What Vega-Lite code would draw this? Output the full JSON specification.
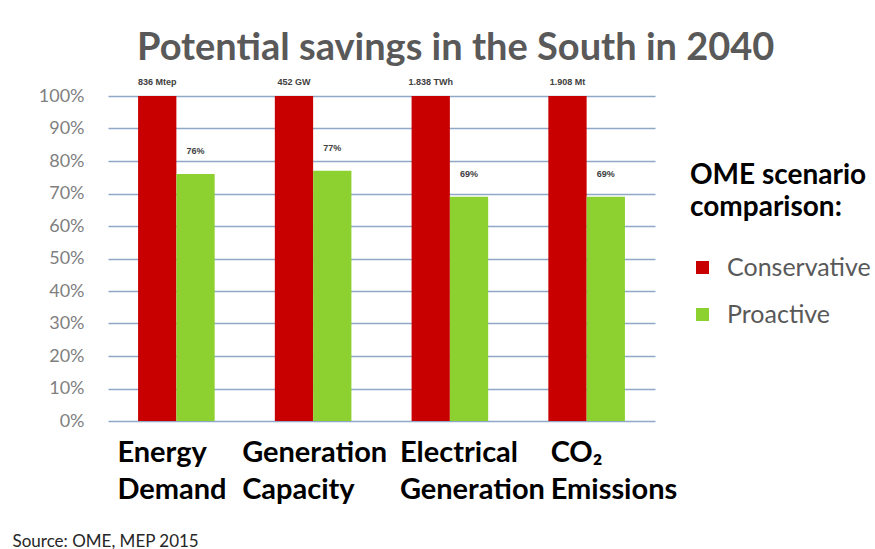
{
  "$schema": "https://vega.github.io/schema/vega-lite/v6.json",
  "autosize": "none",
  "padding": {"left": 108, "top": 96, "right": 220, "bottom": 128},
  "width": 547,
  "height": 325,
  "background": "white",
  "config": {"view": {"stroke": null}, "font": "Lato"},
  "title": {
    "text": "Potential savings in the South in 2040",
    "anchor": "start",
    "frame": "group",
    "dx": 29,
    "fontSize": 38,
    "font": "Lato",
    "fontWeight": "bold",
    "color": "#595959",
    "offset": 10
  },
  "data": {
    "values": [
      {"category": "Energy Demand", "scenario": "Conservative", "value": 1.0, "label": "836 Mtep"},
      {"category": "Energy Demand", "scenario": "Proactive", "value": 0.76, "label": "76%"},
      {"category": "Generation Capacity", "scenario": "Conservative", "value": 1.0, "label": "452 GW"},
      {"category": "Generation Capacity", "scenario": "Proactive", "value": 0.77, "label": "77%"},
      {"category": "Electrical Generation", "scenario": "Conservative", "value": 1.0, "label": "1.838 TWh"},
      {"category": "Electrical Generation", "scenario": "Proactive", "value": 0.69, "label": "69%"},
      {"category": "CO₂ Emissions", "scenario": "Conservative", "value": 1.0, "label": "1.908 Mt"},
      {"category": "CO₂ Emissions", "scenario": "Proactive", "value": 0.69, "label": "69%"}
    ]
  },
  "encoding": {
    "x": {
      "field": "category",
      "type": "nominal",
      "sort": null,
      "scale": {"paddingInner": 0.44, "paddingOuter": 0.22},
      "axis": {
        "title": "Source: OME, MEP 2015",
        "titleFont": "Lato",
        "titleFontSize": 17,
        "titleFontWeight": "normal",
        "titleColor": "#262626",
        "titleAlign": "left",
        "titleAnchor": "start",
        "titleBaseline": "alphabetic",
        "titleX": -96,
        "titleY": 125,
        "labelAngle": 0,
        "labelExpr": "split(datum.label, ' ')",
        "labelAlign": "left",
        "labelBaseline": "top",
        "labelFont": "Lato",
        "labelFontSize": 29,
        "labelFontWeight": "bold",
        "labelColor": "#000000",
        "labelLineHeight": 37,
        "labelPadding": 17,
        "labelOffset": {
          "condition": [
            {"test": "datum.value == 'Energy Demand'", "value": -59},
            {"test": "datum.value == 'Generation Capacity'", "value": -71},
            {"test": "datum.value == 'Electrical Generation'", "value": -50}
          ],
          "value": -36
        },
        "domain": false,
        "ticks": false
      }
    },
    "xOffset": {"field": "scenario", "type": "nominal", "sort": ["Conservative", "Proactive"], "scale": {"paddingInner": 0, "paddingOuter": 0}},
    "y": {
      "field": "value",
      "type": "quantitative",
      "scale": {"domain": [0, 1], "nice": false},
      "axis": {
        "title": null,
        "values": [0, 0.1, 0.2, 0.3, 0.4, 0.5, 0.6, 0.7, 0.8, 0.9, 1.0],
        "format": ".0%",
        "labelFont": "Lato",
        "labelFontSize": 18,
        "labelColor": "#7F7F7F",
        "labelPadding": 24,
        "domain": false,
        "ticks": false,
        "gridColor": "#8FA8C8",
        "gridWidth": 1.5
      }
    }
  },
  "layer": [
    {
      "mark": {"type": "bar"},
      "encoding": {
        "color": {
          "field": "scenario",
          "type": "nominal",
          "scale": {"domain": ["Conservative", "Proactive"], "range": ["#C80000", "#8CD130"]},
          "legend": {
            "orient": "none",
            "legendX": 582,
            "legendY": 66,
            "title": ["OME scenario", "comparison:"],
            "titleFont": "Lato",
            "titleFontSize": 28,
            "titleFontWeight": "bold",
            "titleColor": "#000000",
            "titleLineHeight": 32,
            "titlePadding": 33,
            "symbolType": "square",
            "symbolSize": 169,
            "symbolStrokeWidth": 0,
            "labelFont": "Lato",
            "labelFontSize": 25,
            "labelColor": "#595959",
            "labelOffset": 12,
            "rowPadding": 21
          }
        }
      }
    },
    {
      "transform": [{"filter": "datum.scenario == 'Conservative'"}],
      "mark": {"type": "text", "baseline": "bottom", "dy": -9, "font": "Liberation Sans", "fontSize": 9, "fontWeight": "bold", "color": "#404040"},
      "encoding": {"text": {"field": "label"}}
    },
    {
      "transform": [{"filter": "datum.scenario == 'Proactive'"}],
      "mark": {"type": "text", "baseline": "bottom", "dy": -18, "font": "Liberation Sans", "fontSize": 9, "fontWeight": "bold", "color": "#404040"},
      "encoding": {"text": {"field": "label"}}
    }
  ]
}
